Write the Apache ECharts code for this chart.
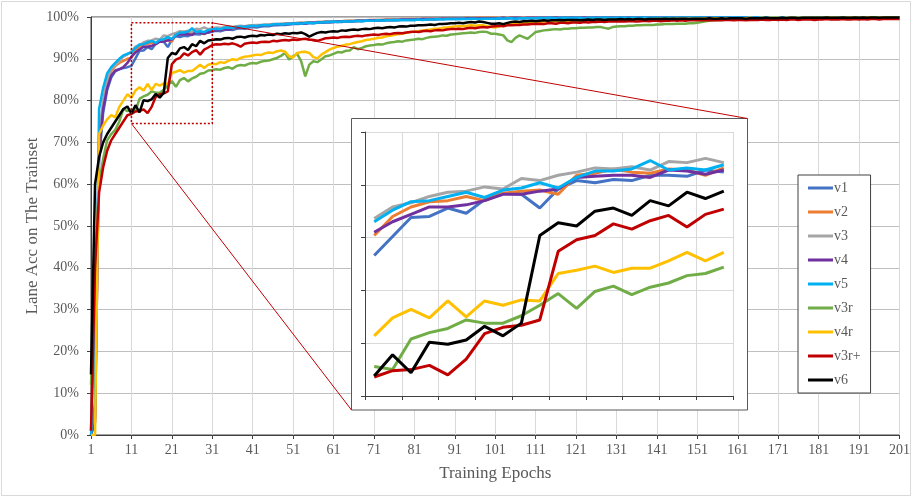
<!DOCTYPE html>
<html><head><meta charset="utf-8">
<script src="https://cdn.jsdelivr.net/npm/echarts@6/dist/echarts.min.js"></script>
<style>html,body{margin:0;padding:0;background:#fff}#c{width:913px;height:498px}</style>
</head><body><div id="c"></div>
<script>
// categories: training epochs 1..201
const epochs = Array.from({length:201},(_,i)=>String(i+1));
const seriesNames = ['v1','v2','v3','v4','v5','v3r','v4r','v3r+','v6'];
// epochs shown in the zoomed inset and the accuracy range of the dotted box
const insetFirst = 11, insetLast = 30;
const zoomEpochs = ['11','31'];
const zoomAcc = [74.5, 98.6];

const v1 = [
1,30,66,77,82.5,85.5,87,87.5,87.8,88,
88.3,90.1,91.9,92.0,92.8,92.3,93.6,94.2,94.1,92.8,
94.6,95.4,95.2,95.5,95.4,95.9,95.9,95.8,96.4,96.2,
96.5,96.7,96.6,96.9,97.0,96.9,97.2,97.3,97.2,97.5,
97.6,97.5,97.7,97.8,97.8,98.0,98.0,98.1,98.1,98.2,
98.3,98.3,98.4,98.4,98.5,98.5,98.6,98.6,98.7,98.7,
98.8,98.8,98.8,98.9,98.9,99.0,99.0,99.0,99.1,99.1,
99.1,99.1,99.2,99.2,99.2,99.2,99.3,99.3,99.3,99.3,
99.3,99.4,99.4,99.4,99.4,99.4,99.5,99.5,99.5,99.5,
99.5,99.5,99.6,99.6,99.6,99.6,99.6,99.6,99.6,99.7,
99.7,99.6,99.7,99.7,99.7,99.6,99.7,99.7,99.7,99.7,
99.7,99.7,99.8,99.7,99.7,99.8,99.7,99.8,99.8,99.7,
99.8,99.8,99.8,99.7,99.8,99.8,99.8,99.8,99.8,99.8,
99.8,99.8,99.8,99.8,99.8,99.9,99.8,99.8,99.8,99.8,
99.8,99.9,99.8,99.8,99.9,99.8,99.8,99.9,99.8,99.9,
99.9,99.8,99.9,99.9,99.8,99.9,99.9,99.9,99.8,99.9,
99.9,99.9,99.9,99.8,99.9,99.9,99.9,99.9,99.9,99.9,
99.9,99.9,99.9,99.9,99.8,99.9,99.9,99.9,99.9,99.9,
99.9,99.9,99.9,99.9,99.9,99.9,99.9,99.8,99.9,99.9,
99.9,99.9,99.9,99.9,99.9,99.9,99.9,99.9,99.9,99.9,99.9];

const v2 = [
0,4,70,79,84.5,87,88.3,89,89.5,90,
90.2,92.0,92.9,93.4,93.5,93.9,93.5,94.2,94.4,94.5,
94.1,95.9,96.1,96.5,96.2,96.1,96.5,96.4,95.9,96.6,
96.8,97.0,96.9,97.2,97.3,97.2,97.5,97.6,97.5,97.7,
97.8,97.8,98.0,98.0,98.1,98.2,98.2,98.3,98.4,98.4,
98.5,98.5,98.6,98.6,98.7,98.7,98.8,98.8,98.9,98.9,
99.0,99.0,99.0,99.1,99.1,99.1,99.2,99.2,99.2,99.3,
99.3,99.3,99.3,99.4,99.4,99.4,99.4,99.5,99.5,99.5,
99.5,99.5,99.6,99.6,99.6,99.6,99.6,99.7,99.7,99.7,
99.7,99.7,99.7,99.8,99.7,99.8,99.8,99.8,99.8,99.8,
99.8,99.8,99.8,99.8,99.9,99.8,99.8,99.9,99.8,99.9,
99.9,99.8,99.9,99.9,99.9,99.9,99.8,99.9,99.9,99.9,
99.9,99.9,99.9,99.9,99.9,99.9,99.9,99.9,99.9,99.9,
99.9,99.9,99.9,99.9,99.9,99.9,99.9,99.9,99.9,99.9,
99.9,99.9,99.9,99.9,99.9,99.9,99.9,99.9,99.9,99.9,
99.9,99.9,99.9,99.9,99.9,99.9,99.9,99.9,99.9,99.9,
99.9,99.9,99.9,99.9,99.9,99.9,99.9,99.9,99.9,99.9,
99.9,99.9,99.9,99.9,99.9,99.9,99.9,99.9,99.9,99.9,
99.9,99.9,99.9,99.9,99.9,99.9,99.9,99.9,99.9,99.9,
99.9,99.9,99.9,99.9,99.9,99.9,99.9,99.9,99.9,99.9,99.9];

const v3 = [
0,5,72,80,85,87.5,88.5,89.5,90.5,91,
91.8,92.9,93.3,93.9,94.3,94.4,94.8,94.6,95.6,95.4,
95.9,96.2,96.6,96.5,96.7,96.4,97.2,97.1,97.5,97.1,
97.3,97.5,97.4,97.6,97.7,97.6,97.8,97.9,97.8,98.0,
98.0,98.1,98.1,98.2,98.2,98.3,98.3,98.4,98.4,98.5,
98.5,98.6,98.6,98.6,98.7,98.7,98.8,98.8,98.9,98.9,
98.9,99.0,99.0,99.0,99.1,99.1,99.1,99.2,99.2,99.2,
99.2,99.3,99.3,99.3,99.3,99.4,99.4,99.4,99.4,99.4,
99.5,99.5,99.5,99.5,99.5,99.6,99.6,99.6,99.6,99.6,
99.6,99.7,99.7,99.7,99.7,99.7,99.7,99.7,99.7,99.7,
99.7,99.8,99.7,99.8,99.8,99.8,99.8,99.8,99.8,99.8,
99.8,99.8,99.8,99.9,99.8,99.8,99.9,99.8,99.9,99.8,
99.9,99.9,99.9,99.9,99.9,99.9,99.9,99.9,99.9,99.9,
99.9,99.9,99.9,99.9,99.9,99.9,99.9,99.9,99.9,99.9,
99.9,99.9,99.9,99.9,99.9,99.9,99.9,99.9,99.9,99.9,
99.9,99.9,99.9,99.9,99.9,99.9,99.9,99.9,99.9,99.9,
99.9,99.9,99.9,99.9,99.9,99.9,99.9,99.9,99.9,99.9,
99.9,99.9,99.9,99.9,99.9,99.9,99.9,99.9,99.9,99.9,
99.9,99.9,99.9,99.9,99.9,99.9,99.9,99.9,99.9,99.9,
99.9,99.9,99.9,99.9,99.9,99.9,99.9,99.9,99.9,99.9,99.9];

const v4 = [
0,3,68,78,83,86,87.2,87.5,88,89,
90.5,91.5,92.2,92.9,92.9,93.1,93.5,94.1,94.1,94.4,
94.6,95.7,95.8,95.9,95.9,95.7,96.4,96.3,96.0,96.4,
96.6,96.8,96.9,97.1,97.0,97.3,97.4,97.5,97.6,97.7,
97.8,97.8,97.9,98.0,98.0,98.1,98.2,98.2,98.3,98.3,
98.4,98.4,98.5,98.5,98.6,98.6,98.7,98.7,98.8,98.8,
98.8,98.9,98.9,99.0,99.0,99.0,99.1,99.1,99.1,99.2,
99.2,99.2,99.2,99.3,99.3,99.3,99.3,99.4,99.4,99.4,
99.4,99.4,99.5,99.5,99.5,99.5,99.5,99.6,99.6,99.6,
99.6,99.6,99.6,99.7,99.7,99.7,99.7,99.7,99.7,99.7,
99.7,99.7,99.8,99.7,99.8,99.8,99.8,99.7,99.8,99.8,
99.8,99.8,99.8,99.8,99.8,99.9,99.8,99.8,99.8,99.9,
99.8,99.8,99.9,99.8,99.8,99.9,99.8,99.9,99.8,99.9,
99.8,99.9,99.8,99.9,99.9,99.8,99.9,99.9,99.8,99.9,
99.9,99.8,99.9,99.9,99.9,99.8,99.9,99.9,99.9,99.8,
99.9,99.9,99.9,99.9,99.8,99.9,99.9,99.9,99.9,99.8,
99.9,99.9,99.9,99.9,99.9,99.9,99.8,99.9,99.9,99.9,
99.9,99.9,99.9,99.8,99.9,99.9,99.9,99.9,99.9,99.9,
99.9,99.9,99.9,99.9,99.9,99.9,99.9,99.9,99.9,99.9,
99.9,99.9,99.9,99.9,99.9,99.9,99.9,99.9,99.9,99.9,99.9];

const v5 = [
0,8,78,83,86.5,88,89,90,90.8,91.2,
91.5,92.6,93.4,93.5,93.9,94.3,93.8,94.5,94.7,95.2,
94.7,95.7,96.3,96.3,96.5,97.3,96.4,96.6,96.4,96.9,
97.0,97.2,97.1,97.4,97.5,97.4,97.6,97.7,97.6,97.8,
97.9,97.8,98.0,98.1,98.0,98.2,98.3,98.2,98.3,98.4,
98.4,98.5,98.4,98.6,98.6,98.5,98.7,98.7,98.8,98.8,
98.9,98.8,98.9,99.0,98.9,99.0,99.1,99.0,99.1,99.1,
99.1,99.2,99.1,99.2,99.2,99.3,99.2,99.3,99.3,99.3,
99.3,99.4,99.3,99.4,99.4,99.4,99.5,99.4,99.5,99.5,
99.5,99.5,99.6,99.5,99.6,99.6,99.5,99.6,99.6,99.6,
99.6,99.7,99.6,99.7,99.7,99.6,99.7,99.7,99.7,99.7,
99.7,99.8,99.7,99.8,99.8,99.7,99.8,99.8,99.8,99.8,
99.8,99.8,99.7,99.8,99.8,99.8,99.8,99.9,99.8,99.8,
99.8,99.9,99.8,99.8,99.9,99.8,99.9,99.9,99.8,99.9,
99.9,99.8,99.9,99.9,99.9,99.8,99.9,99.9,99.9,99.9,
99.9,99.9,99.9,99.8,99.9,99.9,99.9,99.9,99.9,99.9,
99.9,99.9,99.9,99.9,99.9,99.9,99.9,99.9,99.9,99.9,
99.9,99.9,99.9,99.9,99.9,99.9,99.9,99.9,99.9,99.9,
99.9,99.9,99.9,99.9,99.9,99.9,99.9,99.9,99.9,99.9,
99.9,99.9,99.9,99.9,99.9,99.9,99.9,99.9,99.9,99.9,99.9];

const v3r = [
12,40,60,66,70.5,72,73,75,78,77.5,
77.8,77.5,80.4,81.0,81.4,82.2,81.9,81.9,82.6,83.6,
84.7,83.3,84.9,85.4,84.6,85.3,85.7,86.4,86.6,87.2,
87.3,87.5,87.4,87.8,88.0,87.6,88.3,88.5,88.4,88.8,
89.0,88.9,89.3,89.5,89.6,89.9,90.2,90.7,91.4,89.8,
90.6,91.2,89.4,85.8,88.6,89.4,89.2,89.9,90.6,90.8,
91.2,91.6,91.5,91.9,92.0,92.8,92.3,92.6,93.0,93.2,
93.3,93.5,93.4,93.7,93.9,94.0,94.2,94.1,94.4,94.5,
94.6,94.8,94.7,95.0,95.2,95.3,95.4,95.6,95.5,95.8,
95.9,96.0,96.1,96.2,96.3,96.2,96.4,96.5,96.4,96.0,
96.0,95.8,95.6,94.4,94.0,95.0,95.6,95.2,94.8,95.6,
96.4,96.6,96.8,96.9,97.0,97.1,97.0,97.2,97.2,97.3,
97.3,97.4,97.4,97.5,97.5,97.6,97.6,97.4,97.2,97.6,
97.7,97.8,97.8,97.9,97.9,98.0,98.0,98.1,98.1,98.1,
98.2,98.2,98.3,98.3,98.3,98.4,98.4,98.4,98.5,98.5,
98.6,98.8,99.0,99.1,99.2,99.3,99.3,99.4,99.4,99.4,
99.5,99.4,99.5,99.5,99.5,99.6,99.5,99.6,99.6,99.6,
99.6,99.6,99.6,99.7,99.6,99.7,99.6,99.7,99.7,99.7,
99.7,99.7,99.7,99.7,99.8,99.7,99.7,99.8,99.7,99.8,
99.8,99.7,99.8,99.8,99.8,99.8,99.8,99.8,99.8,99.8,99.8];

const v4r = [
0,0,72,74,75.5,76.5,76,78.5,80,81.5,
80.7,82.4,83.2,82.4,84.0,82.5,84.0,83.6,84.1,84.0,
86.6,86.9,87.3,86.7,87.1,87.1,87.8,88.6,87.8,88.6,
88.8,88.7,89.2,89.0,89.5,89.9,89.7,90.2,90.5,90.6,
90.8,91.0,90.9,91.3,91.5,91.4,91.8,92.0,91.7,90.6,
90.3,91.4,91.6,91.7,91.4,90.4,90.1,91.0,91.6,92.2,
92.6,92.9,93.1,93.4,93.5,93.8,94.0,94.2,94.5,94.6,
94.8,95.0,95.1,95.4,95.5,95.7,95.9,96.0,96.2,96.4,
96.5,96.6,96.8,96.9,97.0,97.2,97.2,97.4,97.5,97.6,
97.7,97.8,97.8,97.9,98.0,97.9,98.0,98.0,97.8,97.6,
97.5,97.8,98.0,98.2,98.3,98.4,98.5,98.6,98.6,98.7,
98.8,98.8,98.9,98.9,99.0,99.0,99.0,99.1,99.1,99.1,
99.2,99.1,99.2,99.2,99.2,99.3,99.2,99.3,99.3,99.3,
99.3,99.4,99.3,99.4,99.4,99.4,99.4,99.5,99.4,99.5,
99.5,99.5,99.5,99.5,99.6,99.5,99.6,99.6,99.6,99.6,
99.6,99.6,99.7,99.6,99.7,99.7,99.6,99.7,99.7,99.7,
99.7,99.7,99.7,99.8,99.7,99.7,99.8,99.7,99.8,99.8,
99.8,99.7,99.8,99.8,99.8,99.8,99.8,99.8,99.8,99.8,
99.8,99.8,99.8,99.9,99.8,99.8,99.8,99.8,99.9,99.8,
99.8,99.8,99.9,99.8,99.8,99.8,99.9,99.8,99.8,99.8,99.8];

const v3rp = [
1,40,58,64,68,70.5,72,73.5,75,76.5,
76.8,77.4,77.5,77.9,77.0,78.5,80.9,81.5,81.7,82.2,
88.7,89.8,90.2,91.3,90.8,91.6,92.1,91.0,92.2,92.7,
93.3,93.5,93.4,93.6,93.5,93.7,93.4,92.9,93.6,93.8,
93.9,93.8,94.0,94.1,94.0,94.3,94.2,94.4,94.5,94.4,
94.6,94.5,94.7,94.8,94.6,94.5,94.3,94.6,94.9,95.0,
95.1,95.0,95.2,95.3,95.2,95.4,95.5,95.4,95.6,95.7,
95.8,95.7,95.9,96.0,95.9,96.1,96.2,96.1,96.3,96.4,
96.5,96.4,96.6,96.7,96.6,96.8,96.9,96.8,97.0,97.1,
97.1,97.2,97.1,97.3,97.4,97.3,97.5,97.6,97.5,97.7,
97.8,97.9,97.8,98.0,98.0,98.1,98.1,98.2,98.2,98.3,
98.3,98.4,98.3,98.5,98.5,98.4,98.6,98.6,98.5,98.7,
98.7,98.6,98.8,98.7,98.8,98.8,98.9,98.8,98.9,98.9,
98.9,99.0,98.9,99.0,99.0,98.9,99.0,99.1,99.0,99.1,
99.1,99.0,99.1,99.1,99.2,99.1,99.2,99.1,99.2,99.2,
99.2,99.2,99.3,99.2,99.2,99.3,99.2,99.3,99.3,99.2,
99.3,99.3,99.2,99.3,99.3,99.3,99.4,99.3,99.3,99.4,
99.3,99.4,99.3,99.4,99.4,99.3,99.4,99.4,99.4,99.3,
99.4,99.4,99.5,99.4,99.4,99.4,99.5,99.4,99.4,99.5,
99.4,99.5,99.4,99.5,99.5,99.4,99.5,99.5,99.5,99.5,99.5];

const v6 = [
14.5,60,66.5,70,72,73.5,75,76.5,78,78.6,
76.9,78.9,77.2,80.1,79.9,80.3,81.6,80.7,81.9,90.2,
91.4,91.1,92.5,92.8,92.1,93.5,93.0,94.3,93.7,94.4,
94.5,94.7,94.6,94.9,95.0,94.8,95.2,95.3,95.1,95.4,
95.5,95.4,95.7,95.6,95.8,95.7,96.0,95.9,96.1,96.0,
96.2,96.1,96.3,95.9,95.3,95.8,96.2,96.4,96.3,96.5,
96.6,96.5,96.8,96.7,96.9,97.0,96.9,97.1,97.2,97.1,
97.3,97.4,97.3,97.5,97.6,97.5,97.7,97.8,97.7,97.9,
97.9,98.0,98.0,98.1,98.2,98.1,98.3,98.3,98.4,98.5,
98.5,98.6,98.5,98.7,98.8,98.7,98.9,98.8,98.6,98.4,
98.4,98.5,98.3,98.6,98.8,98.9,98.8,99.0,99.0,99.1,
99.0,99.1,99.2,99.1,99.2,99.2,99.3,99.2,99.3,99.3,
99.3,99.2,99.3,99.4,99.3,99.4,99.4,99.3,99.4,99.4,
99.4,99.5,99.4,99.5,99.4,99.5,99.5,99.4,99.5,99.5,
99.5,99.5,99.6,99.5,99.6,99.5,99.6,99.6,99.5,99.6,
99.6,99.6,99.6,99.7,99.6,99.6,99.7,99.6,99.7,99.7,
99.7,99.7,99.6,99.7,99.7,99.7,99.7,99.8,99.7,99.7,
99.7,99.8,99.7,99.8,99.8,99.7,99.8,99.8,99.8,99.8,
99.8,99.8,99.9,99.8,99.8,99.8,99.9,99.8,99.8,99.9,
99.8,99.9,99.8,99.9,99.9,99.8,99.9,99.9,99.9,99.9,99.9];

const colors = ['#4472C4','#ED7D31','#A5A5A5','#7030A0','#00B0F0','#70AD47','#FFC000','#C00000','#000000'];
const dataSets = [v1,v2,v3,v4,v5,v3r,v4r,v3rp,v6];
const FONT = '"Liberation Serif","Times New Roman",serif';
const TXT = '#595959';
const AX = '#404040';
const inset = {left:365, top:132, width:368, height:264};

const chart = echarts.init(document.getElementById('c'));
const series = [];
dataSets.forEach((d,i)=>{
  series.push({name:seriesNames[i], type:'line', xAxisIndex:0, yAxisIndex:0, data:d,
    symbol:'none', showSymbol:false, silent:true, z:2,
    lineStyle:{width:2.5,color:colors[i]}, itemStyle:{color:colors[i]}});
});
dataSets.forEach((d,i)=>{
  series.push({name:seriesNames[i], type:'line', xAxisIndex:1, yAxisIndex:1,
    data:d.slice(insetFirst-1, insetLast),
    symbol:'none', showSymbol:false, silent:true, zlevel:1, z:5,
    lineStyle:{width:3,color:colors[i]}, itemStyle:{color:colors[i]}});
});

chart.setOption({
  animation:false,
  backgroundColor:'#fff',
  textStyle:{fontFamily:FONT},
  grid:[
    {left:91, top:17, right:13, bottom:63, show:true, borderColor:AX, borderWidth:1, backgroundColor:'transparent'},
    {left:inset.left, top:inset.top, width:inset.width, height:inset.height, zlevel:1}
  ],
  xAxis:[
    {type:'category', gridIndex:0, data:epochs, boundaryGap:false,
     axisLine:{lineStyle:{color:AX}},
     axisTick:{show:true, interval:9, length:4, lineStyle:{color:AX}},
     axisLabel:{interval:9, color:TXT, fontFamily:FONT, fontSize:14, margin:8},
     splitLine:{show:true, interval:9, lineStyle:{color:'#d9d9d9'}},
     name:'Training Epochs', nameLocation:'middle', nameGap:30,
     nameTextStyle:{fontFamily:FONT, fontSize:17, color:TXT}},
    {type:'category', gridIndex:1, data:epochs.slice(insetFirst-1, insetLast), boundaryGap:true,
     zlevel:1, z:3,
     axisLine:{lineStyle:{color:AX}},
     axisTick:{show:true, interval:1, length:4, lineStyle:{color:AX}},
     axisLabel:{show:false},
     splitLine:{show:true, interval:1, lineStyle:{color:'#d9d9d9'}}}
  ],
  yAxis:[
    {type:'value', gridIndex:0, min:0, max:100, interval:10,
     axisLine:{show:true, lineStyle:{color:AX}},
     axisTick:{show:true, length:4, lineStyle:{color:AX}},
     axisLabel:{formatter:'{value}%', color:TXT, fontFamily:FONT, fontSize:14, margin:12},
     splitLine:{show:true, lineStyle:{color:'#bfbfbf'}},
     name:'Lane Acc on The Trainset', nameLocation:'middle', nameGap:50, nameRotate:90,
     nameMoveOverlap:false,
     nameTextStyle:{fontFamily:FONT, fontSize:17, color:TXT}},
    {type:'value', gridIndex:1, min:75, max:100, interval:5, zlevel:1, z:3,
     axisLine:{show:true, lineStyle:{color:AX}},
     axisTick:{show:true, length:4, lineStyle:{color:AX}},
     axisLabel:{show:false},
     splitLine:{show:true, lineStyle:{color:'#d9d9d9'}}}
  ],
  legend:{
    data:seriesNames, orient:'vertical', left:798, top:175,
    padding:[6,10,6,10], itemGap:10, itemWidth:25, itemHeight:3, icon:'rect',
    backgroundColor:'#fff', borderColor:AX, borderWidth:1, borderRadius:0,
    selectedMode:false, zlevel:1,
    textStyle:{fontFamily:FONT, fontSize:14, lineHeight:14, color:TXT, padding:[0,0,0,-4]}
  },
  series:series
});

const tl = chart.convertToPixel({gridIndex:0}, [zoomEpochs[0], zoomAcc[1]]);
const br = chart.convertToPixel({gridIndex:0}, [zoomEpochs[1], zoomAcc[0]]);
const box = {x1:inset.left-13.5, y1:inset.top-13.5, x2:inset.left+inset.width+14.5, y2:inset.top+inset.height+14};
chart.setOption({
  graphic:{elements:[
    {type:'rect', silent:true, z:0, shape:{x:1.5,y:1.5,width:909,height:494},
     style:{fill:'none', stroke:'#d9d9d9', lineWidth:1}},
    {type:'rect', silent:true, zlevel:1, z:2, shape:{x:tl[0], y:tl[1], width:br[0]-tl[0], height:br[1]-tl[1]},
     style:{fill:'none', stroke:'#C00000', lineWidth:1.5, lineDash:[2,2]}},
    {type:'line', silent:true, zlevel:1, z:2, shape:{x1:br[0], y1:tl[1], x2:box.x2, y2:box.y1},
     style:{stroke:'#C00000', lineWidth:1}},
    {type:'line', silent:true, zlevel:1, z:2, shape:{x1:tl[0], y1:br[1], x2:box.x1, y2:box.y2},
     style:{stroke:'#C00000', lineWidth:1}},
    {type:'rect', silent:true, zlevel:1, z:1, shape:{x:box.x1, y:box.y1, width:box.x2-box.x1, height:box.y2-box.y1},
     style:{fill:'#fff', stroke:'#595959', lineWidth:1}}
  ]}
});
</script></body></html>
